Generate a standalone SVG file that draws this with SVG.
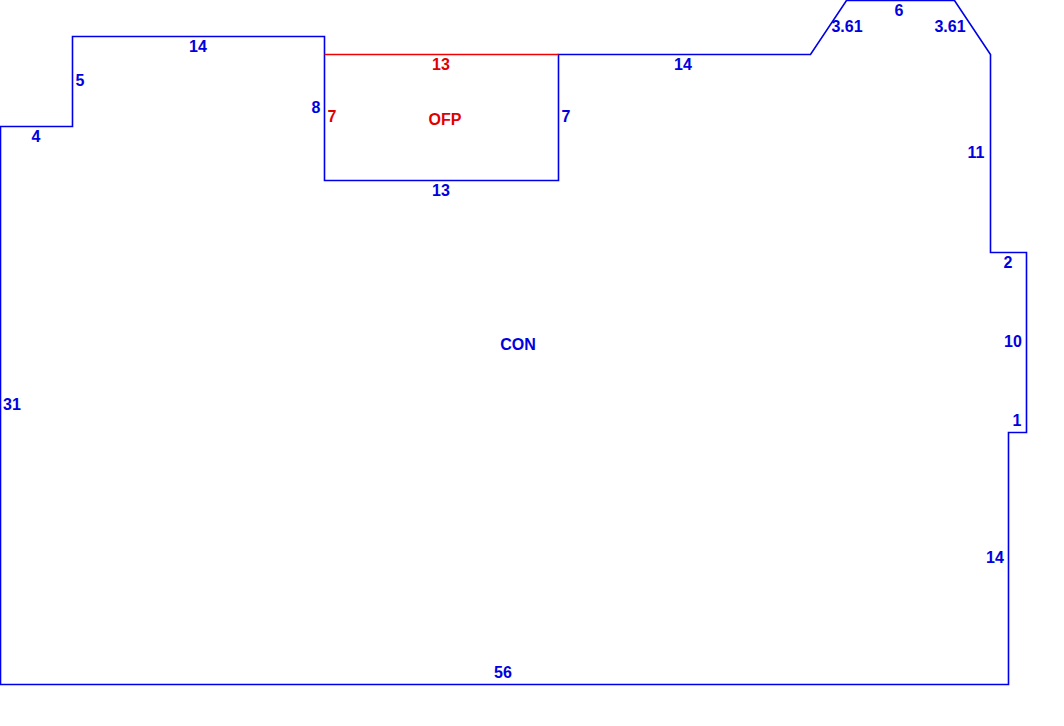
<svg xmlns="http://www.w3.org/2000/svg" width="1064" height="726" viewBox="0 0 1064 726">
<style>
.b{fill:none;stroke:#0000e6;stroke-width:1.6}
.r{fill:none;stroke:#f00000;stroke-width:1.6}
text{font-family:"Liberation Sans",Arial,sans-serif;font-size:16px;font-weight:bold;text-anchor:middle}
.tb{fill:#0000e0}
.tr{fill:#e00000}
</style>
<rect width="1064" height="726" fill="#ffffff"/>
<g id="connectors">
<path class="b" d="M0.5 684.500V126.500H72.500V36.500H324.500V180.500H558.500V54.500H810.500L846.500 0.500H954.500L990.500 54.500V252.500H1026.500V432.500H1008.500V684.500Z"/>
<path class="r" d="M324.500 54.500H558.500"/>
</g>
<g id="labels">
<text class="tb" x="36" y="142">4</text>
<text class="tb" x="80" y="86">5</text>
<text class="tb" x="198" y="52">14</text>
<text class="tb" x="316" y="113">8</text>
<text class="tr" x="332" y="122">7</text>
<text class="tr" x="441" y="70">13</text>
<text class="tr" x="445" y="125">OFP</text>
<text class="tb" x="566" y="122">7</text>
<text class="tb" x="441" y="196">13</text>
<text class="tb" x="683" y="70">14</text>
<text class="tb" x="847" y="32">3.61</text>
<text class="tb" x="899" y="16">6</text>
<text class="tb" x="950" y="32">3.61</text>
<text class="tb" x="976" y="158">11</text>
<text class="tb" x="1008" y="268">2</text>
<text class="tb" x="1013" y="347">10</text>
<text class="tb" x="1017" y="426">1</text>
<text class="tb" x="995" y="563">14</text>
<text class="tb" x="503" y="678">56</text>
<text class="tb" x="12" y="410">31</text>
<text class="tb" x="518" y="350">CON</text>
</g>
</svg>
